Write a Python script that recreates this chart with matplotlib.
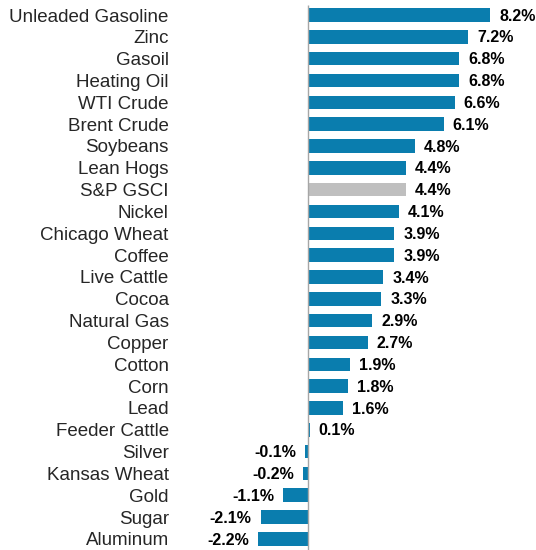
import matplotlib
matplotlib.use("Agg")
import matplotlib.pyplot as plt

plt.rcParams['font.family'] = ['Liberation Sans', 'DejaVu Sans']

categories = ["Unleaded Gasoline", "Zinc", "Gasoil", "Heating Oil", "WTI Crude",
              "Brent Crude", "Soybeans", "Lean Hogs", "S&P GSCI", "Nickel",
              "Chicago Wheat", "Coffee", "Live Cattle", "Cocoa", "Natural Gas",
              "Copper", "Cotton", "Corn", "Lead", "Feeder Cattle", "Silver",
              "Kansas Wheat", "Gold", "Sugar", "Aluminum"]
values = [8.2, 7.2, 6.8, 6.8, 6.6, 6.1, 4.8, 4.4, 4.4, 4.1, 3.9, 3.9, 3.4, 3.3,
          2.9, 2.7, 1.9, 1.8, 1.6, 0.1, -0.1, -0.2, -1.1, -2.1, -2.2]
highlight = "S&P GSCI"

blue = "#0A7DAE"
gray = "#BFBFBF"
colors = [gray if c == highlight else blue for c in categories]

W, H, DPI = 536, 550, 100
fig = plt.figure(figsize=(W / DPI, H / DPI), dpi=DPI)
left_px, right_px = 175, 536
ax = fig.add_axes([left_px / W, 0, (right_px - left_px) / W, 1])

zero_px = 307.5
scale = 22.3  # px per percent
ax.set_xlim(-(zero_px - left_px) / scale, (right_px - zero_px) / scale)

row = 21.83
first = 15.0
n = len(categories)
ax.set_ylim(n - 1 + (H - first - (n - 1) * row) / row, -first / row)

ypos = list(range(n))
ax.barh(ypos, values, height=0.62, color=colors, zorder=2)
ax.vlines(0, -0.46, n - 1 + 0.5, color="#A6A6A6", linewidth=1.0, zorder=3)

off = 9 / scale
for y, v in zip(ypos, values):
    if v >= 0:
        ax.text(v + off, y + 0.05, f"{v:.1f}%", ha="left", va="center",
                fontsize=11.5, fontweight="bold", color="#000000")
    else:
        ax.text(v - off, y + 0.05, f"{v:.1f}%", ha="right", va="center",
                fontsize=11.5, fontweight="bold", color="#000000")

ax.set_yticks(ypos)
ax.set_yticklabels(categories, fontsize=13.5, color="#262626")
ax.tick_params(axis="y", length=0, pad=4.5)
ax.set_xticks([])
for s in ax.spines.values():
    s.set_visible(False)

fig.savefig("out.png", dpi=DPI)
